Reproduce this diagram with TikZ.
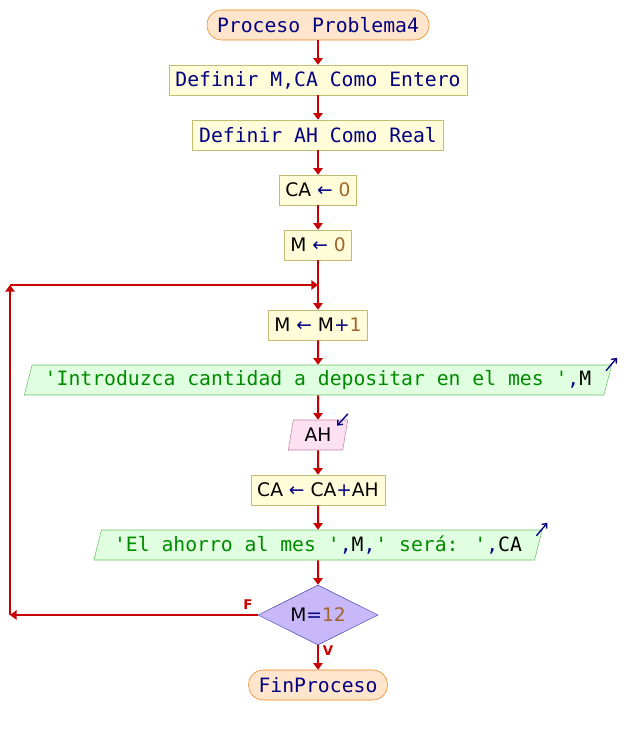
\documentclass[tikz,border=0pt]{standalone}
\usepackage{fontspec}
\setmainfont{DejaVu Sans}
\newfontfamily\codigo{DejaVu Sans Mono}
\usetikzlibrary{shapes.geometric,arrows.meta}
\definecolor{azul}{HTML}{000080}
\definecolor{verde}{HTML}{008A00}
\definecolor{numero}{HTML}{A0642D}
\definecolor{rojo}{HTML}{C80000}
\definecolor{lila}{HTML}{C8B8FA}
\tikzset{
  flujo/.style={draw=rojo, line width=1.5pt, -{Triangle[length=5pt,width=7pt]}},
  inicio/.style={draw=orange!70!brown, fill=orange!20!white, rounded corners=11pt,
    minimum height=22.5pt, inner xsep=7.5pt, inner ysep=0pt,
    font=\codigo\fontsize{14.8}{17}\selectfont, text=azul},
  definir/.style={draw=yellow!60!black!70, fill=yellow!15, minimum height=22.5pt,
    inner xsep=5pt, inner ysep=0pt, font=\codigo\fontsize{14.8}{17}\selectfont, text=azul},
  asigna/.style={draw=yellow!60!black!70, fill=yellow!15, minimum height=22.5pt,
    inner xsep=4.5pt, inner ysep=0pt, font=\fontsize{14}{17}\selectfont},
  escribir/.style={trapezium, trapezium left angle=68, trapezium right angle=112,
    trapezium stretches body, draw=green!60!black!60, fill=green!12,
    minimum height=22.5pt, inner xsep=9.5pt, inner ysep=0pt,
    font=\codigo\fontsize{14.8}{17}\selectfont},
  leer/.style={trapezium, trapezium left angle=70, trapezium right angle=110,
    trapezium stretches body, draw=magenta!60!black!60, fill=magenta!12,
    minimum height=22.5pt, inner xsep=8.5pt, inner ysep=0pt, font=\fontsize{14}{17}\selectfont},
  decision/.style={diamond, aspect=2, draw=blue!60!black!70, fill=lila,
    minimum width=90pt, minimum height=45pt, inner sep=0pt, font=\fontsize{14}{17}\selectfont},
  icono/.style={draw=azul, line width=1pt, -{Straight Barb[length=3pt,width=5pt]}},
  etiq/.style={text=rojo, font=\bfseries\fontsize{10}{11}\selectfont}
}
\newcommand{\asig}{\textcolor{azul}{←}}
\begin{document}
\begin{tikzpicture}[x=0.75pt,y=-0.75pt]
\useasboundingbox (0,0) rectangle (636,735);
% bloques del diagrama
\node[inicio] (ini) at (318,25) {Proceso Problema4};
\node[definir] (def1) at (318,80) {Definir M,CA Como Entero};
\node[definir] (def2) at (318,135) {Definir AH Como Real};
\node[asigna] (ca0) at (318,190) {CA \asig{} \textcolor{numero}{0}};
\node[asigna] (m0) at (318,245) {M \asig{} \textcolor{numero}{0}};
\node[asigna] (m1) at (318,325) {M \asig{} M\textcolor{azul}{+}\textcolor{numero}{1}};
\node[escribir] (msg1) at (318,380) {\textcolor{verde}{'Introduzca cantidad a depositar en el mes '}\textcolor{azul}{,}M};
\node[leer] (ah) at (318,435) {AH};
\node[asigna] (suma) at (318,490) {CA \asig{} CA\textcolor{azul}{+}AH};
\node[escribir] (msg2) at (318,545) {\textcolor{verde}{'El ahorro al mes '}\textcolor{azul}{,}M\textcolor{azul}{,}\textcolor{verde}{' será: '}\textcolor{azul}{,}CA};
\node[decision] (cond) at (318,615) {M\textcolor{azul}{=}\textcolor{numero}{12}};
\node[inicio] (fin) at (318,685) {FinProceso};
% esquinas del ciclo
\coordinate (esq1) at (10,615);
\coordinate (esq2) at (10,285);
\coordinate (union) at (318,285);
% conectores
\draw[flujo] (ini) -- (def1);
\draw[flujo] (def1) -- (def2);
\draw[flujo] (def2) -- (ca0);
\draw[flujo] (ca0) -- (m0);
\draw[flujo] (m0) -- (m1);
\draw[flujo] (m1) -- (msg1);
\draw[flujo] (msg1) -- (ah);
\draw[flujo] (ah) -- (suma);
\draw[flujo] (suma) -- (msg2);
\draw[flujo] (msg2) -- (cond);
\draw[flujo] (cond) -- (fin);
\draw[flujo] (cond.west) -- (esq1);
\draw[flujo] (esq1) -- (esq2);
\draw[flujo] (esq2) -- (union);
\node[etiq] (lf) at (248,605) {F};
\node[etiq] (lv) at (328,651) {V};
% flechitas de entrada/salida
\draw[icono] ([shift={(-6,6)}]msg1.top right corner) -- ++(11,-13);
\draw[icono] ([shift={(-6,6)}]msg2.top right corner) -- ++(11,-13);
\draw[icono] ([shift={(0,-6)}]ah.top right corner) -- ++(-11,12);
\end{tikzpicture}
\end{document}
